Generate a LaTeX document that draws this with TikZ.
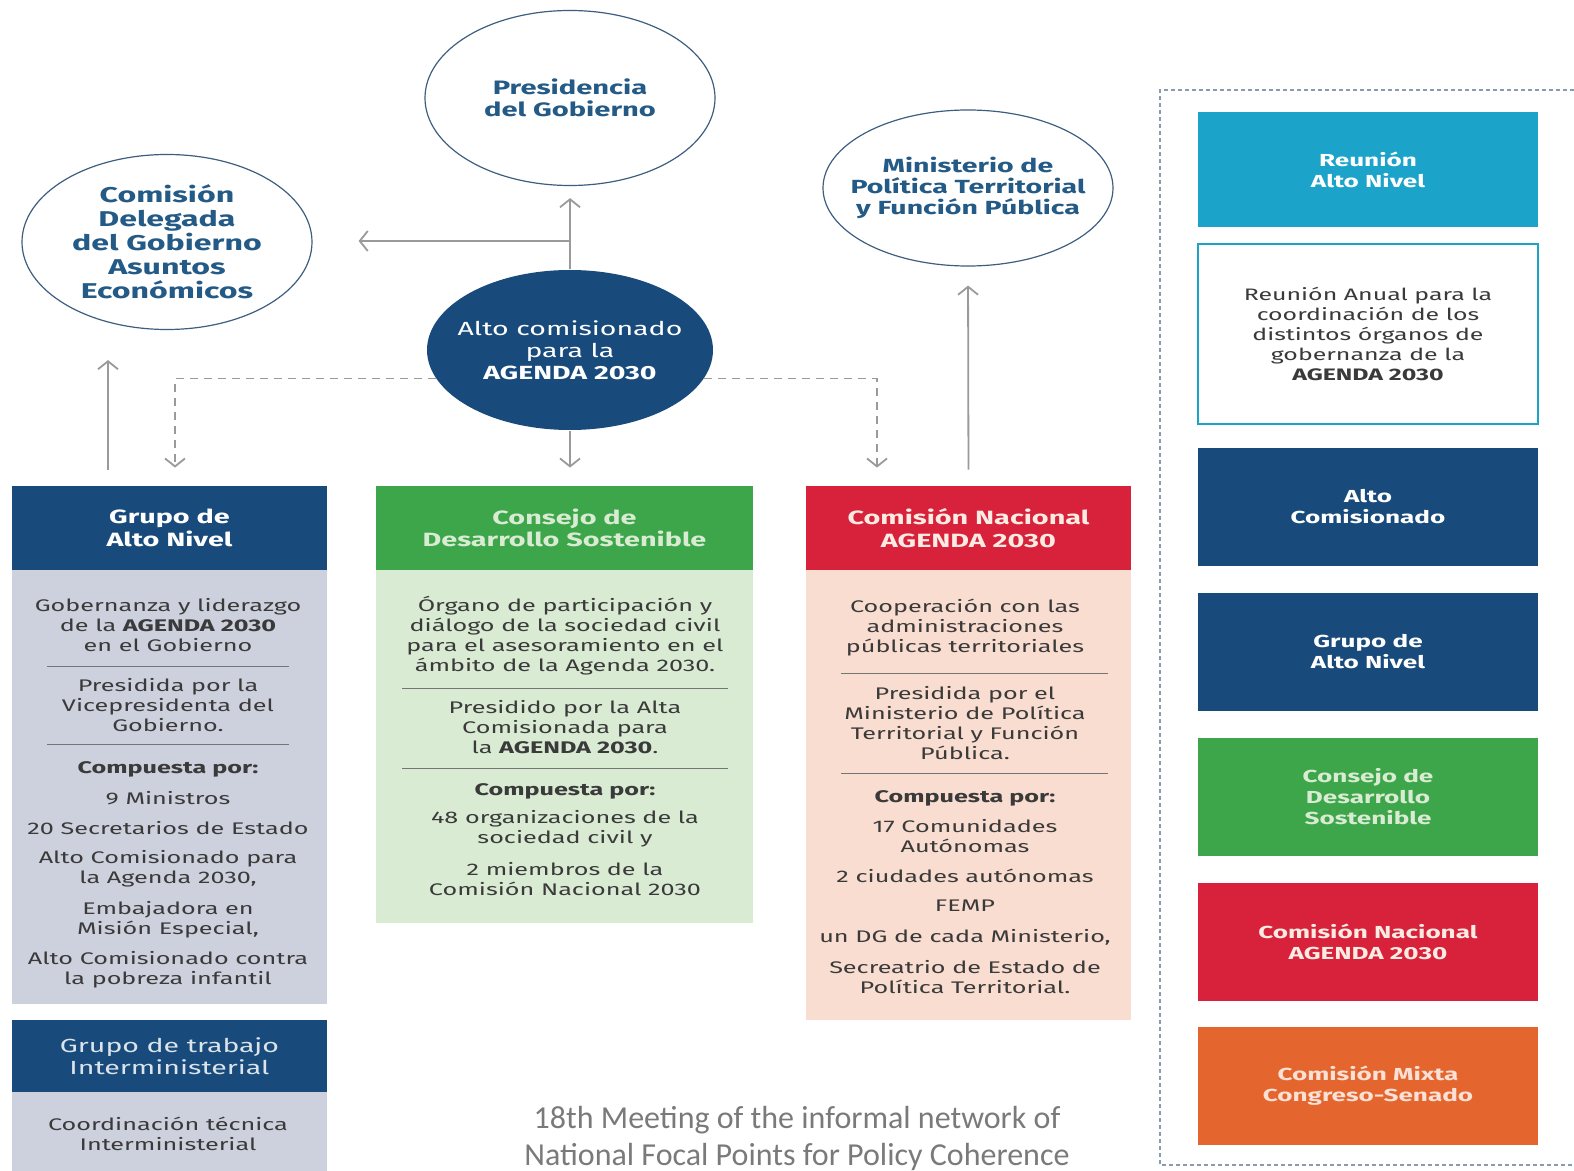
\documentclass[tikz,border=0pt]{standalone}
\usepackage{fontspec}
\setmainfont{Fira Sans}
\newfontfamily\diafont[FakeStretch=1.5]{Fira Sans}
\newfontfamily\piefont{Carlito}
\usetikzlibrary{shapes.geometric,arrows.meta,calc}
\definecolor{azul}{HTML}{184A7B}
\definecolor{azultxt}{HTML}{245A86}
\definecolor{contorno}{HTML}{3E5E80}
\definecolor{grisazul}{HTML}{CDD1DD}
\definecolor{verde}{HTML}{3DA64A}
\definecolor{verdeclaro}{HTML}{DAEBD4}
\definecolor{rojo}{HTML}{D8213A}
\definecolor{rosa}{HTML}{F9DDD0}
\definecolor{cian}{HTML}{1CA3CA}
\definecolor{naranja}{HTML}{E4662E}
\definecolor{flecha}{HTML}{9A9A9A}
\definecolor{texto}{HTML}{3A3A3A}
\definecolor{marco}{HTML}{8A9BAE}
\tikzset{
  circulo/.style={ellipse,draw=contorno,line width=0.6pt,fill=white,inner xsep=-12pt,inner ysep=0pt,
    text=azultxt,align=center,font=\diafont\bfseries\fontsize{9.7}{11}\selectfont},
  cabecera/.style={rectangle,inner sep=0pt,minimum height=42pt,align=center,
    font=\diafont\bfseries\fontsize{9.6}{11.2}\selectfont},
  cuerpo/.style={rectangle,inner sep=0pt},
  txt/.style={align=center,inner sep=0pt,text=texto,font=\diafont\fontsize{8.4}{10}\selectfont},
  lateral/.style={rectangle,inner sep=0pt,minimum width=170pt,minimum height=59pt,align=center,
    font=\diafont\bfseries\fontsize{8.7}{10.5}\selectfont},
  sep/.style={draw=texto!70,line width=0.5pt},
  arr/.style={->,draw=flecha,line width=0.9pt},
  dsh/.style={->,draw=flecha,line width=0.9pt,dash pattern=on 4pt off 3pt},
}
\begin{document}
\begin{tikzpicture}[x=0.5pt,y=-0.5pt,>={Straight Barb[length=4pt,width=10pt]}]
\useasboundingbox (0,0) rectangle (1574,1171);

% circulos superiores
\node[circulo,minimum width=145pt,minimum height=87.5pt] (pres) at (570,98) {Presidencia\\del Gobierno};
\node[circulo,minimum width=145pt,minimum height=87.5pt,font=\diafont\bfseries\fontsize{10.7}{12}\selectfont]
  (cdga) at (167,242) {Comisión\\Delegada\\del Gobierno\\Asuntos\\Económicos};
\node[circulo,minimum width=145pt,minimum height=78pt,font=\diafont\bfseries\fontsize{9.5}{10.7}\selectfont]
  (mptfp) at (968,188) {Ministerio de\\Política Territorial\\y Función Pública};
\node[circulo,fill=azul,draw=none,text=white,minimum width=143pt,minimum height=80pt,
  font=\diafont\fontsize{9.5}{11}\selectfont] (alto) at (570,350) {Alto comisionado\\para la\\\textbf{AGENDA 2030}};

% cajas principales
\node[cabecera,fill=azul,text=white,minimum width=157.5pt] (gan) at (169.5,528) {Grupo de\\Alto Nivel};
\node[cuerpo,fill=grisazul,minimum width=157.5pt,minimum height=217pt] (ganb) at (169.5,787) {};
\node[cabecera,fill=verde,text=verdeclaro,minimum width=188.5pt] (cds) at (564.5,528) {Consejo de\\Desarrollo Sostenible};
\node[cuerpo,fill=verdeclaro,minimum width=188.5pt,minimum height=176.5pt] (cdsb) at (564.5,746.5) {};
\node[cabecera,fill=rojo,text=rosa!60,minimum width=162.5pt] (cna) at (968.5,528) {Comisión Nacional\\AGENDA 2030};
\node[cuerpo,fill=rosa,minimum width=162.5pt,minimum height=225pt] (cnab) at (968.5,795) {};
\node[cabecera,fill=azul,text=azul!15,minimum width=157.5pt,minimum height=36pt,font=\diafont\fontsize{9.5}{11}\selectfont]
  (gti) at (169.5,1056) {Grupo de trabajo\\Interministerial};
\node[cuerpo,fill=grisazul,minimum width=157.5pt,minimum height=39.5pt] (gtib) at (169.5,1131.5) {};

% Grupo de Alto Nivel
\node[txt] (gan1) at (168,625) {Gobernanza y liderazgo\\de la \textbf{AGENDA 2030}\\en el Gobierno};
\node[txt] (gan2) at (168,705.5) {Presidida por la\\Vicepresidenta del\\Gobierno.};
\node[txt] (gan3) at (168,769) {\textbf{Compuesta por:}};
\node[txt] (gan4) at (168,798) {9 Ministros};
\node[txt] (gan5) at (168,828) {20 Secretarios de Estado};
\node[txt] (gan6) at (168,869) {Alto Comisionado para\\la Agenda 2030,};
\node[txt] (gan7) at (168,920) {Embajadora en\\Misión Especial,};
\node[txt] (gan8) at (168,970) {Alto Comisionado contra\\la pobreza infantil};
\draw[sep] (47,666)--(289,666) (47,744)--(289,744);
\node[txt] (gti1) at (168,1134) {Coordinación técnica\\Interministerial};

% Consejo de Desarrollo Sostenible
\node[txt] (cds1) at (565,636) {Órgano de participación y\\diálogo de la sociedad civil\\para el asesoramiento en el\\ámbito de la Agenda 2030.};
\node[txt] (cds2) at (565,727) {Presidido por la Alta\\Comisionada para\\la \textbf{AGENDA 2030}.};
\node[txt] (cds3) at (565,791) {\textbf{Compuesta por:}};
\node[txt] (cds4) at (565,829) {48 organizaciones de la\\sociedad civil y};
\node[txt] (cds5) at (565,879) {2 miembros de la\\Comisión Nacional 2030};
\draw[sep] (402,688)--(728,688) (402,768)--(728,768);

% Comision Nacional
\node[txt] (cna1) at (965,628) {Cooperación con las\\administraciones\\públicas territoriales};
\node[txt] (cna2) at (965,723) {Presidida por el\\Ministerio de Política\\Territorial y Función\\Pública.};
\node[txt] (cna3) at (965,798) {\textbf{Compuesta por:}};
\node[txt] (cna4) at (965,836) {17 Comunidades\\Autónomas};
\node[txt] (cna5) at (965,876) {2 ciudades autónomas};
\node[txt] (cna6) at (965,906) {FEMP};
\node[txt] (cna7) at (965,937) {un DG de cada Ministerio,};
\node[txt] (cna8) at (965,977.5) {Secreatrio de Estado de\\Política Territorial.};
\draw[sep] (841,673)--(1108,673) (841,773)--(1108,773);

% conexiones
\coordinate (hsplit) at (570,241);
\coordinate (gup) at (108,470);
\draw[dsh,shorten >=9pt] (alto.192.7) -| ([xshift=2.75pt]gan.north);
\draw[dsh,shorten >=9pt] (alto.-12.7) -| ([xshift=-45.75pt]cna.north);
\draw[arr,shorten >=6pt] (alto.north) -- (pres.south);
\draw[arr,shorten >=23pt] (hsplit) -- (hsplit -| cdga.east);
\draw[arr,shorten >=15pt] (gup) -- (gup |- cdga.south);
\draw[arr,shorten <=8pt,shorten >=9.5pt] (cna.north) -- (mptfp.south);
\draw[arr,shorten >=9pt] (alto.south) -- (alto.south |- cds.north);

% panel derecho
\draw[marco,line width=0.8pt,dash pattern=on 2pt off 1.5pt] (1574,90) -| (1160,1165) -- (1574,1165);
\node[lateral,fill=cian,text=white,minimum height=57.5pt] (ran) at (1368,169.5) {Reunión\\Alto Nivel};
\node[lateral,draw=cian,line width=1pt,fill=white,text=texto,minimum height=90pt,
  font=\diafont\fontsize{8.3}{10.1}\selectfont] (anual) at (1368,334)
  {Reunión Anual para la\\coordinación de los\\distintos órganos de\\gobernanza de la\\\textbf{AGENDA 2030}};
\node[lateral,fill=azul,text=white] (lac) at (1368,507) {Alto\\Comisionado};
\node[lateral,fill=azul,text=white] (lgan) at (1368,652) {Grupo de\\Alto Nivel};
\node[lateral,fill=verde,text=verdeclaro] (lcds) at (1368,797) {Consejo de\\Desarrollo\\Sostenible};
\node[lateral,fill=rojo,text=rosa!60] (lcna) at (1368,941.5) {Comisión Nacional\\AGENDA 2030};
\node[lateral,fill=naranja,text=naranja!20] (lmix) at (1368,1086) {Comisión Mixta\\Congreso-Senado};

% pie
\node[align=center,text=black!52,inner sep=0pt,font=\piefont\fontsize{16}{18.5}\selectfont] (pie) at (797,1138)
  {18th Meeting of the informal network of\\National Focal Points for Policy Coherence};
\end{tikzpicture}
\end{document}
